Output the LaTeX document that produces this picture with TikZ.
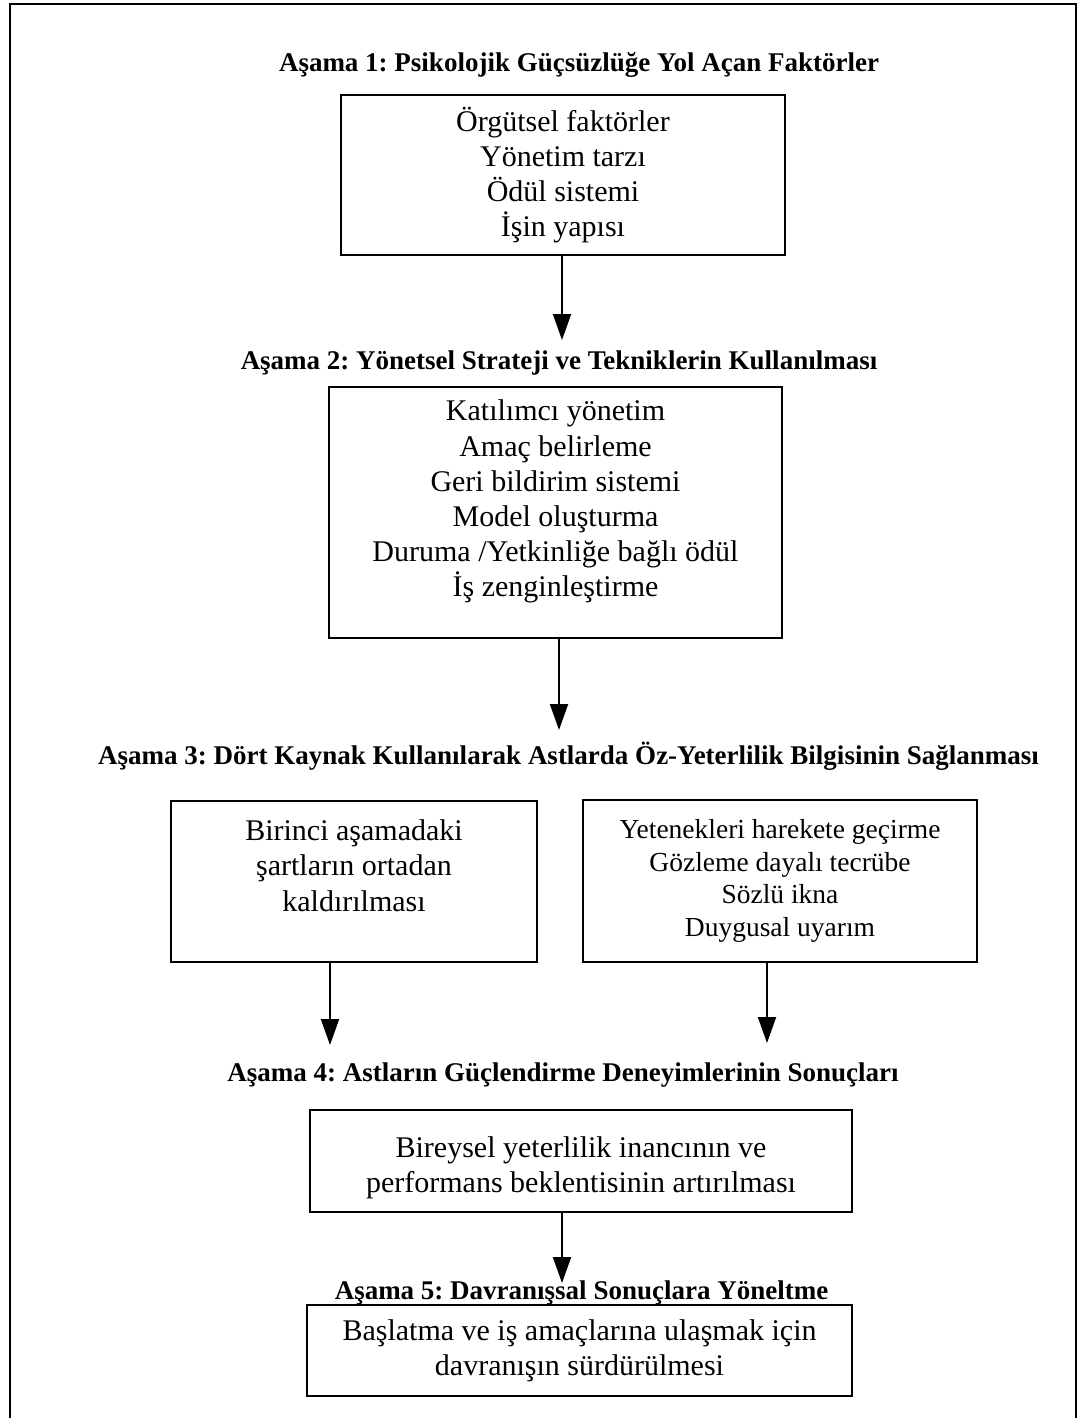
\documentclass[tikz,border=0pt]{standalone}
\usepackage{fontspec}
\setmainfont{Liberation Serif}
\usetikzlibrary{arrows.meta}
\frenchspacing
\begin{document}
\begin{tikzpicture}[x=0.5pt,y=-0.5pt,
 box/.style={draw, line width=1pt, inner sep=0pt, align=center, font=\fontsize{15}{17.6}\selectfont},
 smallbox/.style={box, font=\fontsize{13.75}{16.2}\selectfont},
 head/.style={inner sep=0pt, anchor=base, font=\bfseries\fontsize{13.5}{16}\selectfont},
 arr/.style={line width=1pt, -{Triangle[width=9pt,length=13pt]}},
 frame/.style={line width=1pt}]
\useasboundingbox (0,0) rectangle (1080,1418);
\draw[frame] (10,1418) -- (10,4) -- (1076,4) -- (1076,1418);

\node[head] (h1) at (579,72) {Aşama 1: Psikolojik Güçsüzlüğe Yol Açan Faktörler};
\node[box, minimum width=222pt, minimum height=80pt] (b1) at (563,175)
  {Örgütsel faktörler\\Yönetim tarzı\\Ödül sistemi\\İşin yapısı};

\node[head] (h2) at (559,369) {Aşama 2: Yönetsel Strateji ve Tekniklerin Kullanılması};
\node[box, minimum width=226.5pt, minimum height=125.5pt, text depth=14pt] (b2) at (555.5,512.5)
  {Katılımcı yönetim\\Amaç belirleme\\Geri bildirim sistemi\\Model oluşturma\\Duruma /Yetkinliğe bağlı ödül\\İş zenginleştirme};

\node[head] (h3) at (568.5,764) {Aşama 3: Dört Kaynak Kullanılarak Astlarda Öz-Yeterlilik Bilgisinin Sağlanması};
\node[box, minimum width=183pt, minimum height=80.5pt, text depth=16pt] (b3a) at (354,881.5)
  {Birinci aşamadaki\\şartların ortadan\\kaldırılması};
\node[smallbox, minimum width=197pt, minimum height=81pt] (b3b) at (780,881)
  {Yetenekleri harekete geçirme\\Gözleme dayalı tecrübe\\Sözlü ikna\\Duygusal uyarım};

\node[head] (h4) at (563,1081) {Aşama 4: Astların Güçlendirme Deneyimlerinin Sonuçları};
\node[box, minimum width=271pt, minimum height=51pt] (b4) at (581,1161)
  {\rule{0pt}{17.5pt}Bireysel yeterlilik inancının ve\\performans beklentisinin artırılması};

\node[head] (h5) at (581.5,1299) {Aşama 5: Davranışsal Sonuçlara Yöneltme};
\node[box, minimum width=272.5pt, minimum height=45.5pt] (b5) at (579.5,1350.5)
  {Başlatma ve iş amaçlarına ulaşmak için\\davranışın sürdürülmesi};

\coordinate (t1) at (562,340);
\coordinate (t2) at (559,730);
\coordinate (t3a) at (330,1045);
\coordinate (t3b) at (767,1043);
\coordinate (t4) at (562,1283);
\draw[arr] (b1.south -| t1) -- (t1);
\draw[arr] (b2.south -| t2) -- (t2);
\draw[arr] (b3a.south -| t3a) -- (t3a);
\draw[arr] (b3b.south -| t3b) -- (t3b);
\draw[arr] (b4.south -| t4) -- (t4);
\end{tikzpicture}
\end{document}
